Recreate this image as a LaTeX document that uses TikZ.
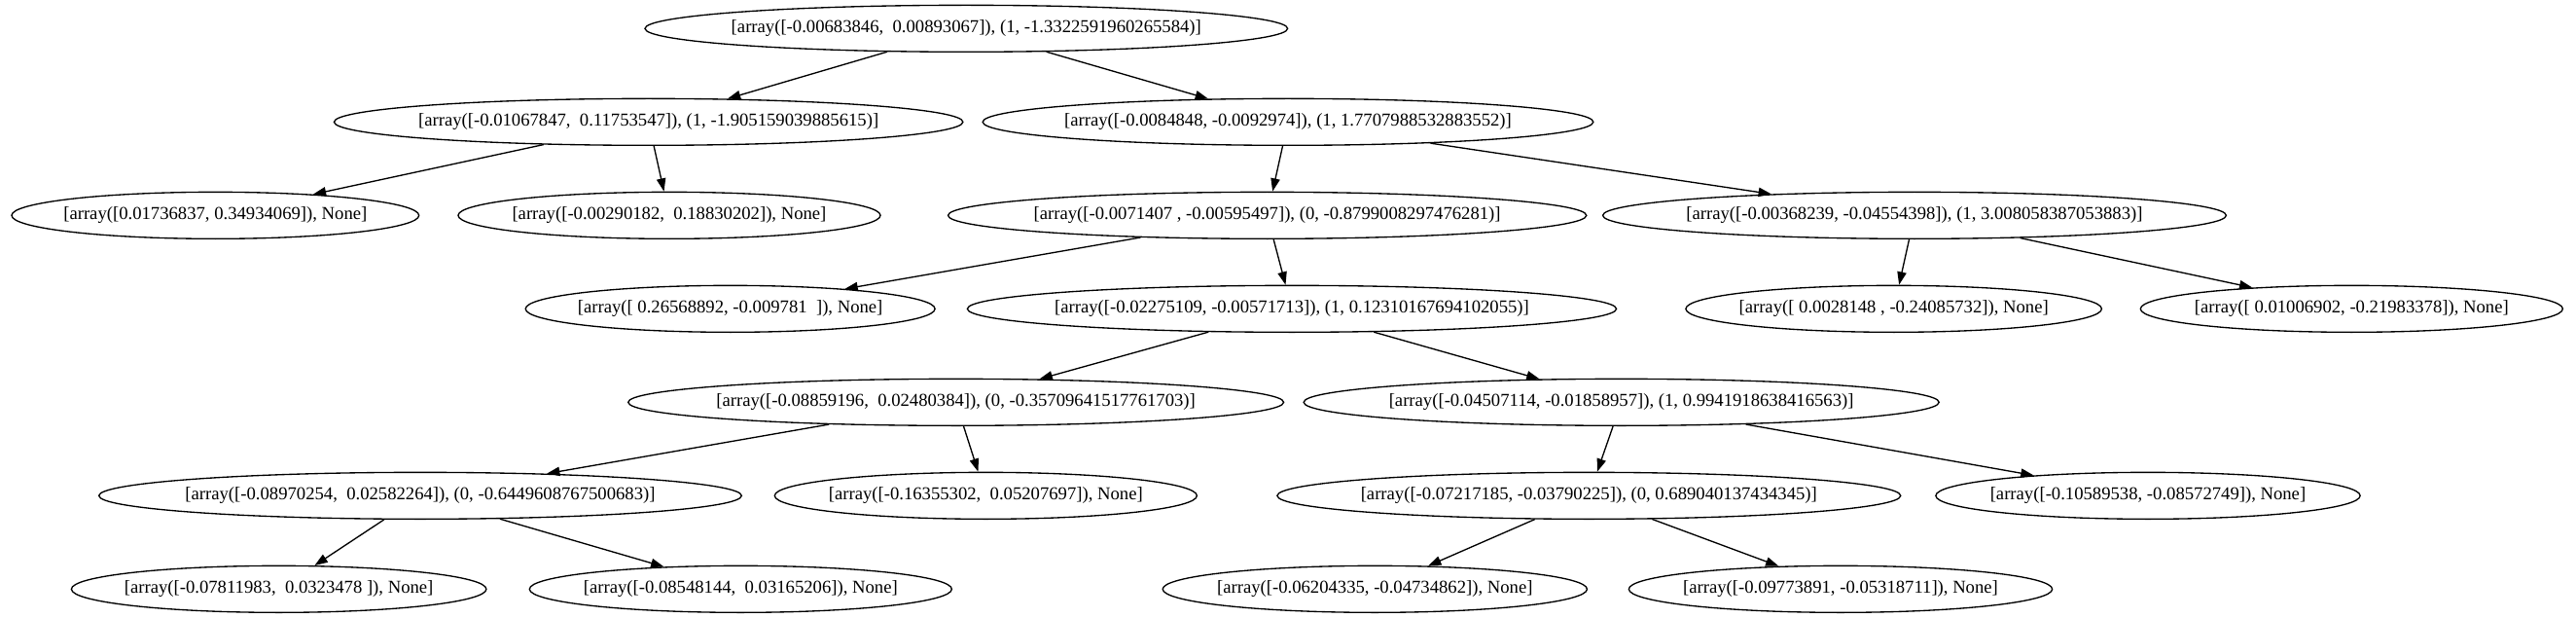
\documentclass[tikz,border=0pt]{standalone}
\usepackage{fontspec}
\setmainfont{Liberation Serif}
\usetikzlibrary{positioning,shapes.geometric,arrows.meta}

\begin{document}
\begin{tikzpicture}[
      nodes={
        draw=black, ellipse, line width=1pt, font=\fontsize{14}{16}\selectfont,
        inner xsep=-6pt, inner ysep=0pt, minimum height=36pt, on grid
      },
      line width=1pt, >={Triangle[length=10pt,width=7pt]}
      ]

      \node                                (n0) {[array([-0.00683846,~ 0.00893067]), (1, -1.3322591960265584)]};
      \node[below left=72pt and 245pt of n0]  (n1) {[array([-0.01067847,~ 0.11753547]), (1, -1.905159039885615)]};
      \node[below right=72pt and 248pt of n0] (n2) {[array([-0.0084848, -0.0092974]), (1, 1.7707988532883552)]};
      \node[below left=72pt and 334pt of n1]  (l1) {[array([0.01736837, 0.34934069]), None]};
      \node[below right=72pt and 16pt of n1]  (l2) {[array([-0.00290182,~ 0.18830202]), None]};
      \node[below left=72pt and 16pt of n2]   (n3) {[array([-0.0071407~, -0.00595497]), (0, -0.8799008297476281)]};
      \node[below right=72pt and 483pt of n2] (n4) {[array([-0.00368239, -0.04554398]), (1, 3.008058387053883)]};
      \node[below left=72pt and 414pt of n3]  (l3) {[array([~0.26568892, -0.009781~~]), None]};
      \node[below right=72pt and 19pt of n3]  (n5) {[array([-0.02275109, -0.00571713]), (1, 0.12310167694102055)]};
      \node[below left=72pt and 16pt of n4]   (l4) {[array([~0.0028148~, -0.24085732]), None]};
      \node[below right=72pt and 337pt of n4] (l5) {[array([~0.01006902, -0.21983378]), None]};
      \node[below left=72pt and 259pt of n5]  (n6) {[array([-0.08859196,~ 0.02480384]), (0, -0.35709641517761703)]};
      \node[below right=72pt and 254pt of n5] (n7) {[array([-0.04507114, -0.01858957]), (1, 0.9941918638416563)]};
      \node[below left=72pt and 413pt of n6]  (n8) {[array([-0.08970254,~ 0.02582264]), (0, -0.6449608767500683)]};
      \node[below right=72pt and 23pt of n6]  (l6) {[array([-0.16355302,~ 0.05207697]), None]};
      \node[below left=72pt and 25pt of n7]   (n9) {[array([-0.07217185, -0.03790225]), (0, 0.689040137434345)]};
      \node[below right=72pt and 406pt of n7] (l7) {[array([-0.10589538, -0.08572749]), None]};
      \node[below left=72pt and 109pt of n8]  (l8) {[array([-0.07811983,~ 0.0323478~]), None]};
      \node[below right=72pt and 247pt of n8] (l9) {[array([-0.08548144,~ 0.03165206]), None]};
      \node[below left=72pt and 165pt of n9]  (l10){[array([-0.06204335, -0.04734862]), None]};
      \node[below right=72pt and 194pt of n9] (l11){[array([-0.09773891, -0.05318711]), None]};

  % Connect the nodes
 \foreach \p/\c in {n0/n1,n0/n2,n1/l1,n1/l2,n2/n3,n2/n4,n3/l3,n3/n5,n4/l4,n4/l5,
                    n5/n6,n5/n7,n6/n8,n6/l6,n7/n9,n7/l7,n8/l8,n8/l9,n9/l10,n9/l11}
   \draw[->] (\p) -- (\c);

 \useasboundingbox ([shift={(-745pt,22pt)}]n0.center) rectangle ++(1986pt,-476pt);

\end{tikzpicture}
\end{document}
